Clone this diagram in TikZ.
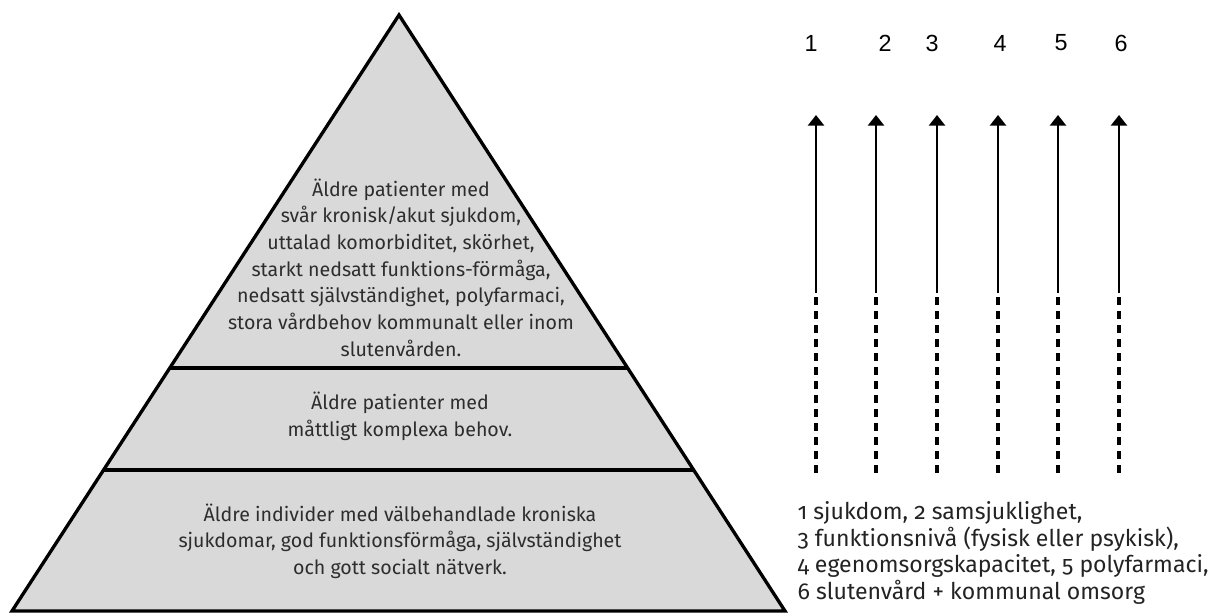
\documentclass[tikz,border=0pt]{standalone}
\usepackage{fontspec}
\setmainfont{Fira Sans}[Numbers=OldStyle]
\newfontfamily\numfont{Liberation Sans}
\usetikzlibrary{arrows.meta}

\tikzset{every picture/.style={line width=0.75pt}}
\tikzset{
  pyrtext/.style={anchor=center,inner sep=0.75pt,align=center,text={rgb, 255:red, 45; green, 45; blue, 45},font=\fontsize{14.7}{20}\selectfont},
  numtext/.style={inner sep=0.75pt,font=\numfont\fontsize{17.5}{20}\selectfont},
  legtext/.style={anchor=base west,inner sep=0pt,text={rgb, 255:red, 35; green, 35; blue, 35},font=\fontsize{17.3}{20}\selectfont},
  solidarrow/.style={line width=2.1,-{Triangle[width=12pt,length=8pt]}},
  dasharrow/.style={line width=2.4,dash pattern={on 6pt off 4.5pt}}
}

\begin{document}
\begin{tikzpicture}[x=0.75pt,y=0.75pt,yscale=-1,xscale=1]
\useasboundingbox (0,0) rectangle (1209,613);

%Shape: Triangle [id:pyramid]
\draw  [fill={rgb, 255:red, 217; green, 217; blue, 217 }  ,fill opacity=1 ][line width=2.5] [line join=miter]  (12,611) -- (399,15) -- (785,611) -- cycle ;
%Straight Lines [id:divtop]
\draw [line width=2.5]    (169.5,368) -- (627.5,368) ;
%Straight Lines [id:divbottom]
\draw [line width=2.5]    (104,470) -- (693,470) ;

% Text Node
\node [pyrtext] (tier3) at (401,267.5) {Äldre patienter med\\svår kronisk/akut sjukdom,\\uttalad komorbiditet, skörhet,\\starkt nedsatt funktions-förmåga,\\nedsatt självständighet, polyfarmaci,\\stora vårdbehov kommunalt eller inom\\slutenvården.};
% Text Node
\node [pyrtext] (tier2) at (400,416) {Äldre patienter med\\måttligt komplexa behov.};
% Text Node
\node [pyrtext] (tier1) at (400,541) {Äldre individer med välbehandlade kroniska\\sjukdomar, god funktionsförmåga, självständighet\\och gott socialt nätverk.};

%Coordinates of the arrows
\coordinate (top1) at (816,115); \coordinate (mid1) at (816,293); \coordinate (bot1) at (816,473);
\coordinate (top2) at (876,115); \coordinate (mid2) at (876,293); \coordinate (bot2) at (876,473);
\coordinate (top3) at (937,115); \coordinate (mid3) at (937,293); \coordinate (bot3) at (937,473);
\coordinate (top4) at (998,115); \coordinate (mid4) at (998,293); \coordinate (bot4) at (998,473);
\coordinate (top5) at (1058,115); \coordinate (mid5) at (1058,293); \coordinate (bot5) at (1058,473);
\coordinate (top6) at (1119,115); \coordinate (mid6) at (1119,293); \coordinate (bot6) at (1119,473);

%Straight Lines
\draw [solidarrow] (mid1) -- (top1) ;
\draw [dasharrow] (bot1) -- (mid1) ;
%Straight Lines
\draw [solidarrow] (mid2) -- (top2) ;
\draw [dasharrow] (bot2) -- (mid2) ;
%Straight Lines
\draw [solidarrow] (mid3) -- (top3) ;
\draw [dasharrow] (bot3) -- (mid3) ;
%Straight Lines
\draw [solidarrow] (mid4) -- (top4) ;
\draw [dasharrow] (bot4) -- (mid4) ;
%Straight Lines
\draw [solidarrow] (mid5) -- (top5) ;
\draw [dasharrow] (bot5) -- (mid5) ;
%Straight Lines
\draw [solidarrow] (mid6) -- (top6) ;
\draw [dasharrow] (bot6) -- (mid6) ;

% Text Node
\node [numtext] (num1) at (811,43) {1};
\node [numtext] (num2) at (885,43) {2};
\node [numtext] (num3) at (932,43) {3};
\node [numtext] (num4) at (1000,43) {4};
\node [numtext] (num5) at (1061,43) {5};
\node [numtext] (num6) at (1121,43) {6};

% Text Node
\node [legtext] (leg1) at (797,519) {1 sjukdom, 2 samsjuklighet,};
\node [legtext] (leg2) at (797,546) {3 funktionsnivå (fysisk eller psykisk),};
\node [legtext] (leg3) at (797,572.5) {4 egenomsorgskapacitet, 5 polyfarmaci,};
\node [legtext] (leg4) at (797,599) {6 slutenvård + kommunal omsorg};

\end{tikzpicture}
\end{document}
